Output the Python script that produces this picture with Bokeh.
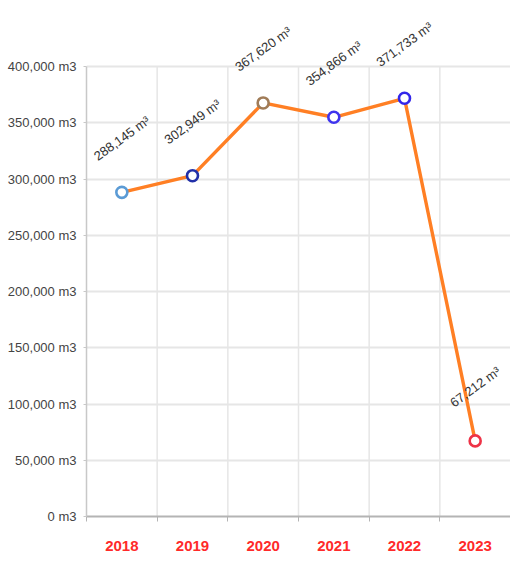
from bokeh.plotting import figure
from bokeh.models import ColumnDataSource, FixedTicker, Range1d, CustomJSTickFormatter
from bokeh.embed import file_html
from bokeh.resources import INLINE
from bokeh.core.properties import value

years = ["2018", "2019", "2020", "2021", "2022", "2023"]
volumes = [288145, 302949, 367620, 354866, 371733, 67212]
labels = ["288,145 m³", "302,949 m³", "367,620 m³", "354,866 m³", "371,733 m³", "67,212 m³"]
marker_colors = ["#5b9bd5", "#2230a8", "#a07c58", "#3f34ee", "#3326ea", "#ee3347"]
y_ticks = [0, 50000, 100000, 150000, 200000, 250000, 300000, 350000, 400000]

xpos = [i + 0.5 for i in range(len(years))]
boundaries = list(range(1, len(years)))
src = ColumnDataSource(dict(x=xpos, y=volumes, label=labels, color=marker_colors))

p = figure(width=510, height=556, output_backend="svg", toolbar_location=None,
           x_range=Range1d(0, len(years)), y_range=Range1d(0, 458667),
           min_border_left=86, min_border_right=0, min_border_top=0, min_border_bottom=40)
p.outline_line_color = None
p.background_fill_color = "white"

# vertical grid lines between categories, limited to the y-axis extent
vg = p.segment(x0=boundaries, y0=[y_ticks[0]] * len(boundaries), x1=boundaries,
               y1=[y_ticks[-1]] * len(boundaries), line_color="#e6e6e6", line_width=1.5)
vg.level = "underlay"

p.line("x", "y", source=src, line_color="#ff7f24", line_width=3.4)
p.scatter("x", "y", source=src, size=11, fill_color="white", line_color="color", line_width=2.6)
p.text("x", "y", text="label", source=src, angle=36, angle_units="deg",
       text_align="center", text_baseline="middle", y_offset=-54,
       text_font=value("Liberation Sans"), text_font_size="13px", text_color="#333333")

# y axis
ya = p.yaxis[0]
ya.ticker = FixedTicker(ticks=y_ticks, minor_ticks=[])
ya.formatter = CustomJSTickFormatter(code="return tick.toLocaleString('en-US') + ' m3';")
ya.bounds = (0, 400000)
ya.axis_line_color = "#c8c8c8"
ya.axis_line_width = 1.5
ya.major_tick_line_color = "#c8c8c8"
ya.major_tick_out = 3
ya.major_tick_in = 0
ya.major_label_standoff = 7
ya.major_label_text_font = "Liberation Sans"
ya.major_label_text_font_size = "13px"
ya.major_label_text_color = "#444444"

# x axis
xa = p.xaxis[0]
xa.ticker = FixedTicker(ticks=xpos, minor_ticks=list(range(len(years) + 1)))
xa.major_label_overrides = {x: y for x, y in zip(xpos, years)}
xa.axis_line_color = "#b4b4b4"
xa.axis_line_width = 2
xa.major_tick_line_color = None
xa.minor_tick_line_color = "#b4b4b4"
xa.minor_tick_out = 5
xa.minor_tick_in = 0
xa.major_label_standoff = 18
xa.major_label_text_font = "Liberation Sans"
xa.major_label_text_font_size = "15px"
xa.major_label_text_font_style = "bold"
xa.major_label_text_color = "#ff2a2a"

p.ygrid.ticker = FixedTicker(ticks=y_ticks)
p.ygrid.grid_line_color = "#e6e6e6"
p.ygrid.grid_line_width = 2
p.xgrid.grid_line_color = None

open("out.html", "w").write(file_html(p, INLINE))
